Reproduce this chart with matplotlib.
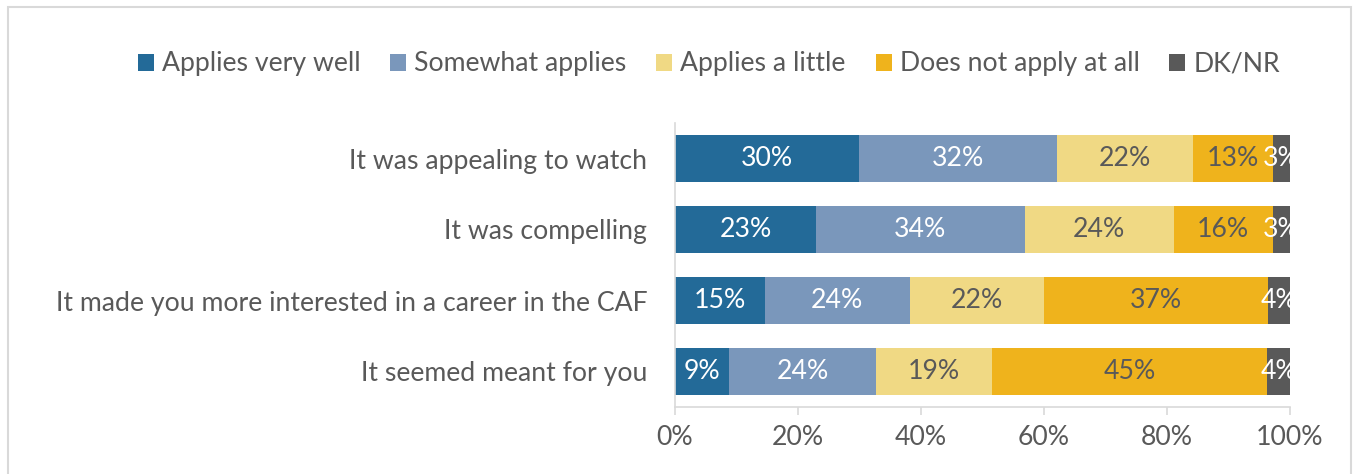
import matplotlib
matplotlib.use("Agg")
import matplotlib.pyplot as plt
from matplotlib.patches import Patch, Rectangle
import numpy as np

categories = [
    "It was appealing to watch",
    "It was compelling",
    "It made you more interested in a career in the CAF",
    "It seemed meant for you",
]
series_names = ["Applies very well", "Somewhat applies", "Applies a little",
                "Does not apply at all", "DK/NR"]
applies_very_well = [29.9, 22.9, 14.6, 8.8]
somewhat_applies = [32.2, 34.0, 23.6, 23.9]
applies_a_little = [22.1, 24.2, 21.8, 18.8]
does_not_apply = [13.0, 16.1, 36.5, 44.8]
dk_nr = [2.8, 2.8, 3.7, 3.7]
labels = [
    ["30%", "23%", "15%", "9%"],
    ["32%", "34%", "24%", "24%"],
    ["22%", "24%", "22%", "19%"],
    ["13%", "16%", "37%", "45%"],
    ["3%", "3%", "4%", "4%"],
]
x_ticks = [0, 20, 40, 60, 80, 100]
x_tick_labels = ["0%", "20%", "40%", "60%", "80%", "100%"]

colors = ["#236A98", "#7A97BB", "#F0D984", "#EFB31C", "#595959"]
label_colors = ["white", "white", "#595959", "#595959", "white"]
text_gray = "#595959"

plt.rcParams['font.family'] = ['Lato', 'DejaVu Sans']
FS = 19.2

W, H = 1353, 474
fig = plt.figure(figsize=(W / 100, H / 100), dpi=100)
ax = fig.add_axes([675 / W, 1 - 407 / H, (1290 - 675) / W, (407 - 123) / H])

series = [applies_very_well, somewhat_applies, applies_a_little, does_not_apply, dk_nr]
y = np.arange(len(categories))
left = np.zeros(len(categories))
for i, vals in enumerate(series):
    vals = np.array(vals)
    bars = ax.barh(y, vals, left=left, height=0.66, color=colors[i],
                   edgecolor="none", label=series_names[i])
    anns = ax.bar_label(bars, labels=labels[i], label_type="center",
                        color=label_colors[i], fontsize=FS)
    for a in anns:
        a.set_clip_on(True)
    left += vals

ax.set_xlim(0, 100)
ax.set_ylim(3.5, -0.5)
ax.set_yticks(y)
ax.set_yticklabels(categories, fontsize=FS, color=text_gray)
ax.set_xticks(x_ticks)
ax.set_xticklabels(x_tick_labels, fontsize=FS, color=text_gray)
ax.tick_params(axis="y", length=0, pad=20)
ax.tick_params(axis="x", length=6, width=1.2, color="#D9D9D9", direction="out", pad=7)
for s in ["top", "right"]:
    ax.spines[s].set_visible(False)
for s in ["left", "bottom"]:
    ax.spines[s].set_color("#D9D9D9")
    ax.spines[s].set_linewidth(1.2)

handles = [Patch(facecolor=c, edgecolor="none") for c in colors]
fig.legend(handles, series_names, loc="center", bbox_to_anchor=(709 / W, 1 - 64 / H),
           ncol=5, frameon=False, fontsize=FS, labelcolor=text_gray,
           handlelength=0.6, handleheight=0.6, handletextpad=0.3,
           columnspacing=1.12)

fig.patches.append(Rectangle((8 / W, -0.05), (1351 - 8) / W, 1.05 - 7 / H,
                             transform=fig.transFigure, fill=False,
                             edgecolor="#D9D9D9", linewidth=1.5))

fig.savefig("out.png", dpi=100, facecolor="white")
